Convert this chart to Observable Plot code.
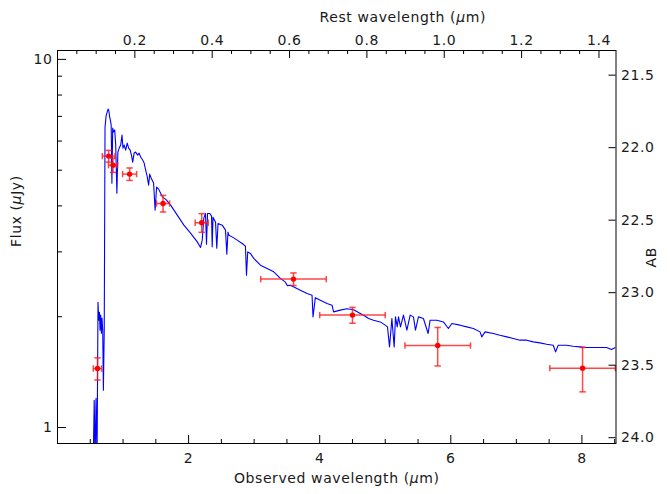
<!DOCTYPE html>
<html><head><meta charset="utf-8">
<script src="https://cdn.jsdelivr.net/npm/d3@7"></script>
<script src="https://cdn.jsdelivr.net/npm/@observablehq/plot@0.6"></script>
<style>body{margin:0;background:#fff}svg{display:block}svg text{letter-spacing:0.6px}</style>
</head><body><div id="chart"></div>
<script>
// Model spectrum (observed wavelength, µm ; flux, µJy)
const specWave = [0.545,0.560,0.573,0.588,0.603,0.618,0.629,0.640,0.649,0.659,
0.670,0.679,0.690,0.700,0.713,0.725,0.743,0.758,0.771,0.784,
0.796,0.807,0.819,0.830,0.842,0.857,0.873,0.888,0.906,0.921,
0.941,0.964,0.984,0.999,1.017,1.040,1.063,1.086,1.109,1.131,
1.147,1.169,1.192,1.223,1.246,1.268,1.299,1.322,1.345,1.367,
1.390,1.406,1.428,1.451,1.466,1.489,1.512,1.543,1.573,1.603,
1.649,1.726,1.827,1.928,2.030,2.132,2.182,2.208,2.232,2.258,
2.273,2.289,2.324,2.350,2.360,2.372,2.411,2.430,2.449,2.513,
2.563,2.583,2.601,2.613,2.665,2.741,2.817,2.867,2.883,2.902,
2.943,2.994,3.096,3.198,3.298,3.400,3.476,3.507,3.553,3.705,
3.807,3.883,3.898,3.933,4.009,4.111,4.188,4.212,4.314,4.416,
4.517,4.619,4.695,4.745,4.821,4.923,4.999,5.034,5.065,5.101,
5.136,5.156,5.182,5.202,5.232,5.278,5.330,5.380,5.430,5.461,
5.506,5.582,5.654,5.684,5.787,5.887,5.963,6.015,6.141,6.243,
6.344,6.446,6.472,6.522,6.648,6.750,6.852,6.953,7.055,7.157,
7.258,7.360,7.462,7.562,7.599,7.638,7.766,7.867,7.969,8.071,
8.171,8.273,8.375,8.451,8.509];
const specFlux = [0.8,1.186,0.8,1.201,0.8,2.190,1.957,2.057,1.838,2.020,
1.804,1.982,1.838,1.263,1.838,6.546,7.058,7.193,7.329,7.238,
6.971,6.842,6.631,4.611,6.507,6.346,6.427,5.850,4.331,5.600,
5.741,5.850,6.228,5.741,5.850,5.669,5.924,5.741,5.669,5.461,
5.260,5.565,5.600,5.496,5.565,5.428,5.327,5.228,5.004,4.819,
4.553,4.880,4.759,4.671,4.611,3.895,4.498,4.442,4.331,4.225,
4.173,4.019,3.775,3.546,3.373,3.194,3.084,3.228,3.705,3.815,
3.149,3.815,3.815,3.751,3.096,3.727,3.613,3.071,3.584,3.546,
3.437,2.958,3.394,3.331,3.295,3.228,3.162,3.109,2.594,3.000,
2.971,2.880,2.761,2.705,2.648,2.541,2.482,2.429,2.436,2.361,
2.313,2.288,1.998,2.253,2.218,2.173,2.149,2.061,2.084,2.103,
2.090,2.041,2.006,1.978,1.957,1.936,1.897,1.877,1.656,1.978,
1.656,1.998,1.877,1.998,1.877,2.020,1.838,2.020,1.998,1.838,
1.998,1.978,1.801,1.957,1.957,1.936,1.858,1.917,1.897,1.877,
1.858,1.819,1.763,1.819,1.801,1.781,1.763,1.746,1.727,1.727,
1.709,1.698,1.684,1.673,1.605,1.673,1.673,1.663,1.656,1.650,
1.650,1.650,1.650,1.629,1.650];

// Photometry
const photWave    = [0.61, 0.78, 0.847, 1.10, 1.61, 2.20, 3.60, 4.50, 5.80, 8.01];
const photWaveErr = [0.064, 0.096, 0.07, 0.107, 0.10, 0.10, 0.5, 0.5, 0.5, 0.5];
const photFlux    = [1.446, 5.46, 5.16, 4.88, 4.06, 3.60, 2.53, 2.02, 1.67, 1.45];
const photFluxErr = [0.1, 0.2, 0.23, 0.19, 0.21, 0.21, 0.1, 0.1, 0.2, 0.2];

// Axes
const onePlusZ = 5.9;
const xTickLabels = [2, 4, 6, 8];
const xMinorTicks = [0.5,1,1.5,2.5,3,3.5,4.5,5,5.5,6.5,7,7.5,8.5];
const restTickLabels = ["0.2","0.4","0.6","0.8","1.0","1.2","1.4"];
const restMinorTicks = [0.05,0.1,0.15,0.25,0.3,0.35,0.45,0.5,0.55,0.65,0.7,0.75,0.85,0.9,0.95,1.05,1.1,1.15,1.25,1.3,1.35];
const yTickLabels = [1, 10];
const yMinorTicks = [2,3,4,5,6,7,8,9];
const abTickLabels = ["21.5","22.0","22.5","23.0","23.5","24.0"];
const abRange = [21.33, 24.04]; // AB at top and bottom of frame

const W = 670, H = 494, mL = 57, mR = 54.5, mT = 50, mB = 51;
const iw = W - mL - mR, ih = H - mT - mB;
const yDomain = [0.905, 10.57];

const spec = specWave.map((w, i) => ({w, f: specFlux[i]}));
const phot = photWave.map((w, i) => ({w, we: photWaveErr[i], f: photFlux[i], fe: photFluxErr[i]}));
// secondary AB axis: linear in AB across the frame
const lTop = Math.log10(yDomain[1]), lBot = Math.log10(yDomain[0]);
const abToFlux = ab => Math.pow(10, lTop - ((+ab) - abRange[0]) / (abRange[1] - abRange[0]) * (lTop - lBot));

const vbar = {draw(ctx, size) { const r = Math.sqrt(size / Math.PI); ctx.moveTo(0, -r); ctx.lineTo(0, r); }};
const hbar = {draw(ctx, size) { const r = Math.sqrt(size / Math.PI); ctx.moveTo(-r, 0); ctx.lineTo(r, 0); }};

const font = "DejaVu Sans, sans-serif";
const ebColor = "#ff1a1a";
const txt = "#1a1a1a";
const eb = {fill: "none", stroke: ebColor, strokeOpacity: 0.8, strokeWidth: 1.5};

const chart = Plot.plot({
  width: W, height: H,
  marginLeft: mL, marginRight: mR, marginTop: mT, marginBottom: mB,
  style: {fontFamily: font, background: "#fff"},
  x: {type: "linear", domain: [0, 8.52], axis: null},
  y: {type: "log", domain: yDomain, axis: null},
  marks: [
    Plot.line(spec, {x: "w", y: "f", stroke: "#0000ff", strokeWidth: 1.1, clip: true}),
    // error bars
    Plot.link(phot, {x1: d => d.w - d.we, x2: d => d.w + d.we, y1: "f", y2: "f", ...eb}),
    Plot.link(phot, {x1: "w", x2: "w", y1: d => d.f - d.fe, y2: d => d.f + d.fe, ...eb}),
    Plot.dot(phot, {x: d => d.w - d.we, y: "f", symbol: vbar, r: 3.2, ...eb}),
    Plot.dot(phot, {x: d => d.w + d.we, y: "f", symbol: vbar, r: 3.2, ...eb}),
    Plot.dot(phot, {x: "w", y: d => d.f - d.fe, symbol: hbar, r: 3.2, ...eb}),
    Plot.dot(phot, {x: "w", y: d => d.f + d.fe, symbol: hbar, r: 3.2, ...eb}),
    Plot.dot(phot, {x: "w", y: "f", r: 2.7, fill: "#ff0000", stroke: "none"}),
    // frame
    Plot.frame({stroke: "#000", strokeWidth: 1}),
    // bottom ticks (inward)
    Plot.ruleX(xTickLabels, {x: d => d, insetTop: ih - 8, stroke: "#000"}),
    Plot.ruleX(xMinorTicks, {x: d => d, insetTop: ih - 4, stroke: "#000"}),
    Plot.text(xTickLabels, {x: d => d, text: d => String(d), frameAnchor: "bottom", dy: 19, fontSize: 14, fill: txt}),
    // top ticks (rest wavelength)
    Plot.ruleX(restTickLabels, {x: d => +d * onePlusZ, insetBottom: ih - 8, stroke: "#000"}),
    Plot.ruleX(restMinorTicks, {x: d => d * onePlusZ, insetBottom: ih - 4, stroke: "#000"}),
    Plot.text(restTickLabels, {x: d => +d * onePlusZ, text: d => d, frameAnchor: "top", dy: -15, fontSize: 14, fill: txt}),
    // left ticks
    Plot.ruleY(yTickLabels, {y: d => d, insetRight: iw - 9, stroke: "#000"}),
    Plot.ruleY(yMinorTicks, {y: d => d, insetRight: iw - 5, stroke: "#000"}),
    Plot.text(yTickLabels, {y: d => d, text: d => String(d), frameAnchor: "left", dx: -5, textAnchor: "end", fontSize: 14, fill: txt}),
    // right AB ticks
    Plot.ruleY(abTickLabels, {y: abToFlux, insetLeft: iw - 7, stroke: "#000"}),
    Plot.text(abTickLabels, {y: abToFlux, text: d => d, frameAnchor: "right", dx: 5, textAnchor: "start", fontSize: 14, fill: txt}),
    // titles
    Plot.text(["Observed wavelength (μm)"], {text: d => d, frameAnchor: "bottom", dy: 39, fontSize: 14, fill: txt}),
    Plot.text(["Rest wavelength (μm)"], {text: d => d, frameAnchor: "top", dx: 66, dy: -38, fontSize: 14, fill: txt}),
    Plot.text(["Flux (μJy)"], {text: d => d, frameAnchor: "left", dx: -41, rotate: -90, fontSize: 14, fill: txt}),
    Plot.text(["AB"], {text: d => d, frameAnchor: "right", dx: 36, rotate: -90, fontSize: 14, fill: txt})
  ]
});

chart.querySelectorAll("text").forEach(t => {
  if (t.textContent.includes("μ")) {
    t.innerHTML = t.textContent.replace("μ", '<tspan font-style="italic">μ</tspan>');
  }
});
document.getElementById("chart").appendChild(chart);
</script>
</body></html>
